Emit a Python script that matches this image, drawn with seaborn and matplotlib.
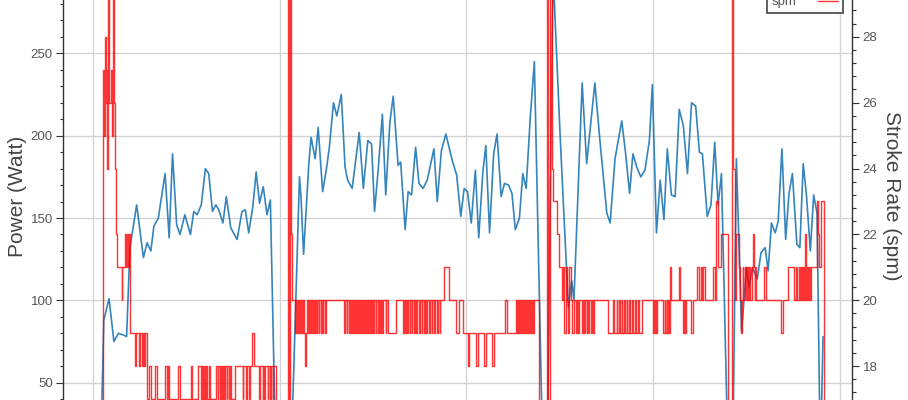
"""
Rowing session: power (left axis) and stroke rate (right axis) over time
"""

import matplotlib
matplotlib.use('Agg')
import matplotlib.pyplot as plt
from matplotlib.ticker import MultipleLocator
import pandas as pd
import seaborn as sns

# ========================================
# Data (time in s, power in W)
# ========================================
power_warmup = [
    (20, 0), (29, 88), (43, 101), (56, 75), (68, 80), (81, 79), (90, 78), (99, 132), (117, 158), (135, 126),
    (145, 135), (155, 130), (163, 145), (175, 150), (193, 177), (204, 138), (213, 189), (224, 146), (233, 140), (246, 152),
    (261, 140), (270, 154), (279, 152), (290, 158), (301, 180), (310, 177), (320, 154), (329, 158), (337, 155), (348, 147),
    (357, 163), (369, 144), (386, 137), (399, 154), (408, 155), (417, 141), (428, 157), (437, 178), (446, 159), (456, 169),
    (466, 152), (475, 161), (490, 0),
]
power_piece2 = [
    (530, 0), (553, 175), (557, 163), (564, 128), (578, 183), (584, 199), (595, 186), (603, 205), (615, 166), (626, 181),
    (633, 193), (644, 220), (653, 212), (665, 225), (675, 181), (682, 173), (694, 168), (713, 202), (724, 168), (736, 197),
    (746, 195), (754, 154), (764, 180), (775, 213), (784, 164), (795, 208), (804, 224), (817, 182), (824, 184), (836, 143),
    (844, 166), (853, 164), (864, 193), (873, 171), (884, 168), (895, 173), (913, 192), (922, 160), (933, 191), (945, 201),
    (962, 185), (974, 176), (985, 151), (994, 168), (1003, 166), (1013, 147), (1024, 179), (1033, 138), (1044, 178), (1052, 194),
    (1062, 141), (1073, 189), (1082, 201), (1093, 163), (1102, 171), (1113, 170), (1122, 165), (1131, 143), (1142, 150), (1151, 177),
    (1160, 168), (1171, 211), (1182, 245), (1205, 0), (1216, 0),
]
power_piece3 = [
    (1232, 300), (1251, 200), (1273, 96), (1282, 112), (1288, 100), (1310, 232), (1322, 183), (1344, 232), (1358, 196), (1376, 153),
    (1385, 147), (1398, 186), (1405, 195), (1416, 209), (1426, 190), (1437, 165), (1446, 189), (1456, 181), (1467, 175), (1478, 179),
    (1490, 197), (1498, 231), (1509, 141), (1519, 173), (1529, 149), (1538, 192), (1549, 164), (1559, 163), (1570, 216), (1581, 206),
    (1592, 177), (1603, 220), (1614, 218), (1624, 190), (1632, 189), (1645, 151), (1655, 158), (1665, 196), (1674, 158), (1683, 177),
    (1701, 0), (1713, 0),
]
power_piece4 = [
    (1723, 186), (1737, 81), (1750, 120), (1757, 108), (1766, 120), (1779, 113), (1789, 129), (1800, 132), (1808, 118), (1817, 147),
    (1827, 141), (1835, 148), (1845, 192), (1855, 137), (1864, 165), (1873, 177), (1885, 134), (1893, 132), (1902, 183), (1911, 163),
    (1921, 130), (1930, 164), (1939, 153), (1948, 0), (1955, 78),
]

# stroke rate change points (time in s, spm) drawn as steps
spm_warmup = [
    (20, 0), (27, 27), (29, 25), (31, 27), (32, 28), (34, 26), (36, 27), (38, 24), (40, 26), (41, 35),
    (43, 26), (47, 27), (50, 25), (53, 26), (54, 35), (57, 26), (59, 24), (61, 22), (65, 21), (77, 20),
    (79, 21), (87, 22), (89, 21), (91, 22), (94, 21), (96, 22), (99, 19), (112, 18), (115, 19), (124, 18),
    (127, 19), (130, 18), (133, 19), (137, 18), (140, 19), (144, 17), (151, 18), (155, 17), (166, 18), (171, 17),
    (193, 18), (197, 17), (202, 18), (204, 17), (228, 18), (233, 17), (263, 18), (266, 17), (281, 18), (289, 17),
    (291, 18), (294, 17), (296, 18), (299, 17), (303, 18), (305, 17), (312, 18), (314, 17), (330, 18), (334, 17),
    (336, 18), (340, 17), (342, 18), (345, 17), (347, 18), (352, 17), (354, 18), (358, 17), (360, 18), (365, 17),
    (367, 18), (370, 17), (379, 18), (401, 17), (403, 18), (410, 17), (412, 18), (419, 17), (421, 18), (427, 19),
    (430, 18), (445, 17), (447, 18), (454, 17), (456, 18), (459, 17), (461, 18), (468, 17), (470, 18), (474, 17),
    (476, 18), (481, 17), (483, 18), (490, 0),
    (521, 45), (524, 0), (528, 45), (531, 22), (532, 21),
]
spm_piece2 = [
    (534, 20), (542, 19), (544, 20), (545, 19), (547, 20), (549, 19), (551, 20), (552, 19), (554, 20), (557, 19),
    (559, 20), (561, 19), (563, 20), (566, 19), (568, 18), (570, 19), (572, 20), (575, 19), (577, 20), (579, 19),
    (581, 20), (584, 19), (587, 20), (590, 19), (592, 20), (595, 19), (597, 20), (599, 19), (601, 20), (604, 19),
    (606, 20), (610, 19), (612, 20), (615, 19), (617, 20), (622, 19), (624, 20), (673, 19), (675, 20), (679, 19),
    (681, 20), (686, 19), (688, 20), (691, 19), (693, 20), (697, 19), (699, 20), (702, 19), (704, 20), (707, 19),
    (709, 20), (713, 19), (715, 20), (718, 19), (720, 20), (724, 19), (726, 20), (729, 19), (731, 20), (735, 19),
    (737, 20), (740, 19), (742, 20), (744, 19), (746, 20), (750, 19), (752, 20), (757, 19), (759, 20), (763, 19),
    (765, 20), (768, 19), (771, 20), (775, 19), (777, 20), (784, 19), (786, 20), (791, 19), (811, 20), (830, 19),
    (832, 20), (836, 19), (838, 20), (842, 19), (844, 20), (848, 19), (850, 20), (853, 19), (855, 20), (860, 19),
    (862, 20), (866, 19), (868, 20), (873, 19), (875, 20), (880, 19), (882, 20), (886, 19), (888, 20), (893, 19),
    (895, 20), (900, 19), (902, 20), (907, 19), (909, 20), (913, 19), (915, 20), (922, 19), (924, 20), (928, 19),
    (930, 20), (940, 21), (953, 20), (971, 19), (980, 20), (991, 19), (1003, 18), (1008, 19), (1026, 18), (1030, 19),
    (1048, 18), (1052, 19), (1068, 18), (1073, 19), (1104, 20), (1110, 19), (1133, 20), (1136, 19), (1138, 20), (1142, 19),
    (1144, 20), (1147, 19), (1149, 20), (1152, 19), (1154, 20), (1158, 19), (1160, 20), (1163, 19), (1165, 20), (1168, 19),
    (1170, 20), (1173, 19), (1175, 20), (1178, 19), (1180, 20), (1195, 0),
    (1216, 45), (1219, 0), (1225, 45), (1230, 24), (1233, 23), (1242, 22),
]
spm_piece3 = [
    (1248, 21), (1257, 20), (1260, 21), (1262, 19), (1266, 21), (1269, 20), (1273, 19), (1276, 21), (1280, 20), (1284, 19),
    (1287, 20), (1293, 19), (1295, 20), (1300, 19), (1302, 20), (1309, 19), (1311, 20), (1316, 19), (1318, 20), (1322, 19),
    (1324, 20), (1326, 19), (1328, 20), (1334, 19), (1336, 20), (1340, 19), (1342, 20), (1380, 19), (1393, 20), (1395, 19),
    (1402, 20), (1404, 19), (1409, 20), (1411, 19), (1416, 20), (1418, 19), (1423, 20), (1425, 19), (1429, 20), (1431, 19),
    (1435, 20), (1437, 19), (1443, 20), (1445, 19), (1451, 20), (1453, 19), (1460, 20), (1462, 19), (1469, 20), (1500, 19),
    (1502, 20), (1504, 19), (1507, 20), (1509, 19), (1511, 20), (1527, 19), (1531, 20), (1533, 19), (1536, 20), (1538, 19),
    (1540, 20), (1542, 19), (1544, 21), (1549, 20), (1569, 21), (1571, 20), (1580, 19), (1584, 20), (1586, 19), (1589, 20),
    (1602, 19), (1607, 20), (1618, 21), (1623, 20), (1627, 21), (1631, 20), (1634, 21), (1638, 20), (1660, 21), (1665, 20),
    (1669, 23), (1674, 21), (1683, 22), (1700, 0),
]
spm_piece4 = [
    (1711, 45), (1715, 24), (1720, 20), (1723, 22), (1729, 21), (1732, 20), (1735, 19), (1738, 20), (1740, 21), (1742, 20),
    (1746, 21), (1749, 20), (1751, 21), (1753, 20), (1758, 21), (1760, 20), (1764, 21), (1768, 22), (1770, 21), (1772, 20),
    (1774, 21), (1776, 20), (1798, 21), (1802, 20), (1842, 19), (1847, 20), (1860, 21), (1878, 20), (1884, 21), (1886, 20),
    (1891, 21), (1894, 20), (1897, 21), (1899, 20), (1902, 21), (1905, 20), (1907, 22), (1909, 20), (1911, 21), (1914, 20),
    (1917, 21), (1920, 20), (1922, 21), (1939, 23), (1942, 22), (1945, 21), (1949, 23), (1958, 0), (1962, 0),
]

power_df = pd.DataFrame(power_warmup + power_piece2 + power_piece3 + power_piece4,
                        columns=['time', 'power'])
spm_df = pd.DataFrame(spm_warmup + spm_piece2 + spm_piece3 + spm_piece4,
                      columns=['time', 'spm'])

# ========================================
# Style
# ========================================
sns.set_style('white')
plt.rcParams['font.family'] = ['Liberation Sans', 'DejaVu Sans']

TEXT = '#555555'
LABEL = '#444444'
SPINE = '#333333'

fig = plt.figure(figsize=(9.08, 4), dpi=100)
# the axes run past the top and bottom of the canvas (cropped view)
ax = fig.add_axes([63.3 / 908, 0, 788.2 / 908, 1])
ax2 = ax.twinx()

sns.lineplot(data=power_df, x='time', y='power', ax=ax, color='#1f77b4',
             lw=1.2, alpha=0.9, estimator=None, sort=False, label='power', legend=False)
sns.lineplot(data=spm_df, x='time', y='spm', ax=ax2, color='#ff0000',
             lw=1.0, alpha=0.8, drawstyle='steps-post', estimator=None, sort=False,
             label='spm', legend=False)

# x axis: grid every 500 s, labels fall outside the crop
ax.set_xlim(-79.5, 2031.3)
ax.xaxis.set_major_locator(MultipleLocator(500))
ax.tick_params(axis='x', length=0, labelbottom=False)
ax.set_xlabel('')
ax2.set_xlabel('')

ax.set_ylim(39.5, 282.4)
ax.yaxis.set_major_locator(MultipleLocator(50))
ax.yaxis.set_minor_locator(MultipleLocator(10))
ax2.set_ylim(16.97, 29.117)
ax2.yaxis.set_major_locator(MultipleLocator(2))
ax2.yaxis.set_minor_locator(MultipleLocator(0.4))

ax.grid(True, which='major', color='#d4d4d4', lw=1)
ax2.grid(False)
ax.set_axisbelow(True)

for a in (ax, ax2):
    a.spines['top'].set_visible(False)
    a.spines['bottom'].set_visible(False)
ax.spines['right'].set_visible(False)
ax2.spines['left'].set_visible(False)
ax.spines['left'].set_color(SPINE)
ax2.spines['right'].set_color(SPINE)
ax.spines['left'].set_linewidth(1)
ax2.spines['right'].set_linewidth(1)

ax.tick_params(axis='y', which='major', left=True, direction='out', length=5, width=0.8,
               color=SPINE, labelsize=9.5, labelcolor=TEXT, pad=2.5)
ax.tick_params(axis='y', which='minor', left=True, direction='out', length=2.5, width=0.8,
               color=SPINE)
ax2.tick_params(axis='y', which='major', right=True, direction='out', length=5, width=0.8,
                color=SPINE, labelsize=9.5, labelcolor=TEXT, pad=3)
ax2.tick_params(axis='y', which='minor', right=True, direction='out', length=3, width=0.8,
                color=SPINE)

ax.set_ylabel('Power (Watt)', fontsize=15, color=LABEL)
ax.yaxis.label.set_va('center')
ax.yaxis.set_label_coords((18 - 63.3) / 788.2, 0.51)
ax2.set_ylabel('Stroke Rate (spm)', fontsize=15, color=LABEL, rotation=270)
ax2.yaxis.label.set_va('center')
ax2.yaxis.set_label_coords((891.5 - 63.3) / 788.2, 0.51)

# stroke-rate legend sits mostly above the crop
leg = fig.legend(ax2.get_lines()[:1], ['spm'], loc='lower right',
                 bbox_to_anchor=(843 / 908, 387 / 400), borderaxespad=0,
                 frameon=True, fancybox=False, markerfirst=False,
                 handlelength=1.55, handletextpad=1.65, borderpad=0.35, fontsize=9.5,
                 labelcolor=TEXT, edgecolor='#444444', framealpha=1)
leg.get_frame().set_linewidth(1.2)

fig.savefig('out.png', dpi=100)
plt.close(fig)
